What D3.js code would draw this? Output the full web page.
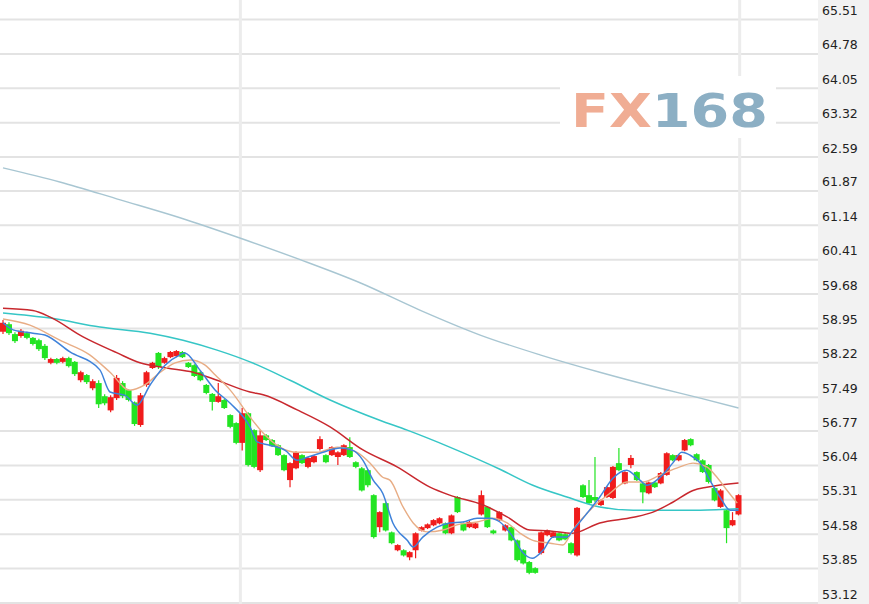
<!DOCTYPE html>
<html><head><meta charset="utf-8">
<script src="https://cdn.jsdelivr.net/npm/d3@7/dist/d3.min.js"></script>
<style>html,body{margin:0;padding:0;background:#fff;overflow:hidden}</style>
</head><body>
<svg id="chart" width="869" height="604"></svg>
<script>
// ---- data ----
const tickLabels = ["65.51","64.78","64.05","63.32","62.59","61.87","61.14","60.41","59.68","58.95","58.22","57.49","56.77","56.04","55.31","54.58","53.85","53.12"];

const openPrices = [58.88,59.04,58.83,58.79,58.85,58.75,58.70,58.58,58.22,58.30,58.24,58.32,58.24,57.85,57.96,57.68,57.79,57.51,57.21,57.47,57.79,57.64,57.38,56.90,57.75,58.11,58.43,58.22,58.34,58.36,58.45,58.22,58.17,58.02,57.75,57.56,57.39,57.43,57.11,56.94,56.52,57.15,56.79,55.94,56.68,56.58,56.47,56.26,55.73,55.98,56.26,56.01,56.11,56.39,56.26,56.26,56.22,56.26,56.43,56.11,55.98,55.94,55.41,54.73,55.24,54.62,54.24,54.24,54.09,54.24,54.66,54.71,54.77,54.81,54.81,54.60,55.37,54.81,54.73,54.71,55.00,55.16,54.66,54.88,54.66,54.73,54.45,54.24,53.99,53.86,54.18,54.56,54.52,54.60,54.58,54.39,54.13,55.62,55.41,55.37,55.20,55.37,55.35,56.09,55.66,56.05,55.90,55.66,55.45,55.68,55.66,55.84,56.26,56.15,56.36,56.60,56.28,56.15,56.05,55.56,55.16,55.09,54.77,55.00];
const highPrices = [59.13,59.08,58.87,58.94,58.88,58.77,58.73,58.62,58.33,58.32,58.35,58.35,58.26,58.05,57.98,57.87,57.85,57.55,57.53,57.96,57.83,57.66,57.40,57.58,58.05,58.24,58.45,58.35,58.47,58.49,58.47,58.24,58.19,58.05,57.77,57.58,57.79,57.45,57.13,56.96,57.26,57.17,56.81,56.79,56.71,56.60,56.49,56.28,56.11,56.34,56.28,56.22,56.26,56.66,56.28,56.45,56.34,56.49,56.64,56.13,56.01,55.96,55.43,55.07,55.26,54.64,54.37,54.26,54.22,54.62,54.75,54.81,54.90,54.94,54.83,55.00,55.39,54.83,54.86,54.83,55.51,55.18,54.68,55.07,54.79,54.75,54.47,54.26,54.01,53.88,54.64,54.68,54.64,54.62,54.62,54.41,55.16,55.64,55.73,56.22,55.32,55.60,56.03,56.41,55.92,56.26,55.92,55.68,55.70,55.70,55.90,56.32,56.28,56.28,56.60,56.62,56.30,56.17,56.07,55.58,55.54,55.11,55.05,55.43];
const lowPrices = [58.83,58.81,58.64,58.75,58.72,58.59,58.47,58.28,58.19,58.19,58.21,58.12,57.94,57.81,57.77,57.64,57.26,57.32,57.17,57.43,57.47,57.40,56.88,56.86,57.71,58.09,58.09,58.20,58.32,58.34,58.32,58.11,57.92,57.83,57.55,57.21,57.37,57.24,56.83,56.49,56.36,56.02,55.98,55.90,56.56,56.43,56.24,55.92,55.58,55.96,56.07,55.98,56.09,56.36,56.09,56.24,56.05,56.24,56.20,55.98,55.49,55.58,54.49,54.62,54.64,54.37,54.22,54.11,54.03,54.07,54.64,54.69,54.75,54.79,54.58,54.58,55.03,54.64,54.71,54.69,54.98,54.71,54.58,54.86,54.64,54.43,54.00,53.94,53.73,53.74,54.15,54.54,54.50,54.43,54.45,54.15,54.11,55.35,55.22,55.26,55.18,55.35,55.33,55.92,55.64,55.98,55.71,55.24,55.43,55.56,55.64,55.82,56.13,56.13,56.34,56.45,56.13,55.88,55.66,55.28,55.14,54.39,54.75,54.98];
const closePrices = [59.07,58.85,58.68,58.90,58.75,58.62,58.51,58.32,58.30,58.22,58.32,58.15,57.98,58.02,57.81,57.83,57.34,57.36,57.49,57.90,57.51,57.43,56.92,57.53,58.02,58.22,58.13,58.32,58.45,58.47,58.34,58.13,57.94,57.85,57.58,57.39,57.51,57.26,56.86,56.52,57.15,56.05,56.01,56.68,56.58,56.45,56.26,55.94,56.09,56.32,56.09,56.20,56.24,56.60,56.11,56.43,56.32,56.47,56.22,56.01,55.51,55.62,54.52,55.05,54.66,54.39,54.35,54.13,54.20,54.60,54.73,54.79,54.88,54.92,54.60,54.98,55.05,54.66,54.84,54.81,55.41,54.73,54.60,55.05,54.77,54.45,54.03,53.96,53.76,53.76,54.62,54.66,54.62,54.45,54.47,54.18,55.14,55.37,55.24,55.30,55.30,55.58,56.01,55.94,55.90,56.20,55.73,55.47,55.68,55.58,55.88,56.30,56.15,56.26,56.58,56.47,56.15,55.90,55.69,55.30,55.51,54.71,54.88,55.41];

// moving averages: positions are candle indexes
const ma5Idx = [0,1.7,5,7,11.2,16.2,17.9,20.4,22.4,24.6,27.1,29.6,30.4,32.9,35.5,38,41.3,42.5,44.6,47.2,49.2,51,53.5,56.4,58.5,60.2,61.9,63.5,65.2,67.6,68.6,70.2,72.6,74.7,76.9,79.3,81.4,83.1,85.3,87,88.5,90.3,92,94.3,95.3,97.7,99.8,102,104.3,106.5,107.7,109.9,112,113.5,114.9,116.6,118.2,119.9,121.6,123];
const ma5Val = [59.07,58.92,58.85,58.81,58.45,58.07,57.60,57.53,57.32,57.75,58.17,58.39,58.43,58.07,57.64,57.36,56.86,56.54,56.47,56.36,56.15,56.22,56.32,56.41,56.36,56.15,55.73,55.45,54.82,54.45,54.31,54.52,54.73,54.82,54.84,54.92,54.92,54.84,54.52,54.18,54.07,54.24,54.52,54.52,54.66,55.03,55.37,55.77,55.94,55.73,55.62,55.79,56.09,56.32,56.26,56.09,55.73,55.37,55.09,55.09];
const ma10Idx = [0,4.5,9.5,14.5,17.9,21.2,23.7,26.3,28.8,31.3,33.8,35.5,38,41.3,43.5,46.3,49.2,52.5,55.9,59.2,61.4,63.5,64.7,66.9,68.6,70.9,73.6,75.9,79.3,81.9,84.3,86.5,88.6,91.5,93.6,95.3,98.7,101.5,104.3,107,109.9,113.2,115.4,117.7,119.4,121.1,122.8];
const ma10Val = [59.15,59.02,58.70,58.39,58.02,57.64,57.75,58.02,58.22,58.28,58.17,57.96,57.64,57.07,56.73,56.43,56.32,56.32,56.43,56.32,56.09,55.79,55.73,55.16,54.82,54.63,54.67,54.78,54.84,54.92,54.82,54.60,54.45,54.39,54.35,54.67,55.16,55.45,55.69,55.69,55.84,56.01,56.09,56.01,55.79,55.51,55.24];
const ma30Idx = [0,5,7.9,13.4,19.1,22.9,27.4,31.8,35.8,41.3,43.5,49.2,54.7,60.2,65.9,71.4,74.7,80.3,84.3,88.1,91.5,95.2,99.8,105.4,108.7,112,115.4,117.7,123];
const ma30Val = [59.38,59.33,59.19,58.77,58.43,58.22,58.11,58.02,57.85,57.60,57.54,57.22,56.86,56.37,56.01,55.58,55.41,55.20,54.95,54.67,54.65,54.60,54.82,54.94,55.05,55.26,55.51,55.58,55.67];
const ma60Idx = [0,7.9,16.2,24.6,30.1,35.8,41.3,48,54.7,63,67.6,74.7,83.1,88.6,94.3,99.8,105.4,111,116.6,123];
const ma60Val = [59.28,59.17,58.98,58.85,58.70,58.49,58.24,57.85,57.43,57.00,56.79,56.43,55.96,55.62,55.37,55.16,55.09,55.09,55.09,55.12];
const ma200Idx = [0,9.5,19.6,29.6,39.6,49.7,59.7,69.7,79.8,89.8,99.8,109.9,116.6,123];
const ma200Val = [62.36,62.06,61.68,61.30,60.87,60.41,59.92,59.34,58.81,58.39,58.02,57.68,57.47,57.26];

// ---- drawing ----
const W = 869, H = 604, plotRight = 818;
const svg = d3.select("#chart");
const n = openPrices.length;
const x = d3.scaleLinear().domain([0, n - 1]).range([3, 738.5]);
const tickVals = tickLabels.map(Number);
const y = d3.scaleLinear().domain([d3.min(tickVals), d3.max(tickVals)]).range([603, 19.5]);

// axis panel background
svg.append("rect").attr("x", plotRight).attr("y", 0).attr("width", W - plotRight).attr("height", H).attr("fill", "#f2f2f2");

// horizontal gridlines
svg.append("g").selectAll("line").data(tickVals).join("line")
  .attr("x1", 0).attr("x2", plotRight)
  .attr("y1", d => y(d)).attr("y2", d => y(d))
  .attr("stroke", "#e3e3e3").attr("stroke-width", 2);

// vertical gridlines
svg.append("g").selectAll("line").data([39.7, 123.2]).join("line")
  .attr("x1", d => x(d)).attr("x2", d => x(d))
  .attr("y1", 0).attr("y2", H)
  .attr("stroke", "#ececec").attr("stroke-width", 3);

// right axis labels
const axis = d3.axisRight(y).tickValues(tickVals).tickSize(0).tickPadding(0).tickFormat((d, i) => tickLabels[i]);
const ag = svg.append("g").attr("transform", `translate(${plotRight + 4},0)`).call(axis);
ag.select(".domain").remove();
ag.selectAll("text")
  .attr("dy", null).attr("y", -5).attr("x", 0)
  .attr("fill", "#222").attr("font-family", "Verdana, 'DejaVu Sans', sans-serif").attr("font-size", "12.5px");

// watermark
const wm = svg.append("g");
wm.append("rect").attr("x", 560).attr("y", 76).attr("width", 216).attr("height", 62).attr("fill", "#fff");
const wt = wm.append("text").attr("x", 571).attr("y", 127)
  .attr("font-family", "'DejaVu Sans', sans-serif").attr("font-weight", "bold").attr("font-size", "47px")
  .attr("textLength", 197).attr("lengthAdjust", "spacingAndGlyphs");
wt.append("tspan").attr("fill", "#f0ad94").text("FX");
wt.append("tspan").attr("fill", "#8cafc4").text("168");

// candles
const candles = d3.range(n).map(i => ({i, o: openPrices[i], h: highPrices[i], l: lowPrices[i], c: closePrices[i]}));
const upCol = "#f01c1c", downCol = "#22e422";
const cg = svg.append("g");
cg.selectAll("line").data(candles).join("line")
  .attr("x1", d => x(d.i)).attr("x2", d => x(d.i))
  .attr("y1", d => y(d.h)).attr("y2", d => y(d.l))
  .attr("stroke", d => d.c >= d.o ? upCol : downCol).attr("stroke-width", 1.2);
const bw = 6;
cg.selectAll("rect").data(candles).join("rect")
  .attr("x", d => x(d.i) - bw / 2).attr("width", bw)
  .attr("y", d => y(Math.max(d.o, d.c)))
  .attr("height", d => Math.max(1.5, Math.abs(y(d.o) - y(d.c))))
  .attr("fill", d => d.c >= d.o ? upCol : downCol);

// moving averages
function maLine(idx, val, color, width) {
  const pts = idx.map((k, j) => [x(k), y(val[j])]);
  svg.append("path").attr("d", d3.line().curve(d3.curveMonotoneX)(pts))
    .attr("fill", "none").attr("stroke", color).attr("stroke-width", width).attr("stroke-linejoin", "round");
}
maLine(ma200Idx, ma200Val, "#a8c6d2", 1.4);
maLine(ma60Idx, ma60Val, "#36c6c6", 1.5);
maLine(ma30Idx, ma30Val, "#c8282e", 1.5);
maLine(ma10Idx, ma10Val, "#e8ad85", 1.4);
maLine(ma5Idx, ma5Val, "#3f82da", 1.5);
</script>
</body></html>
